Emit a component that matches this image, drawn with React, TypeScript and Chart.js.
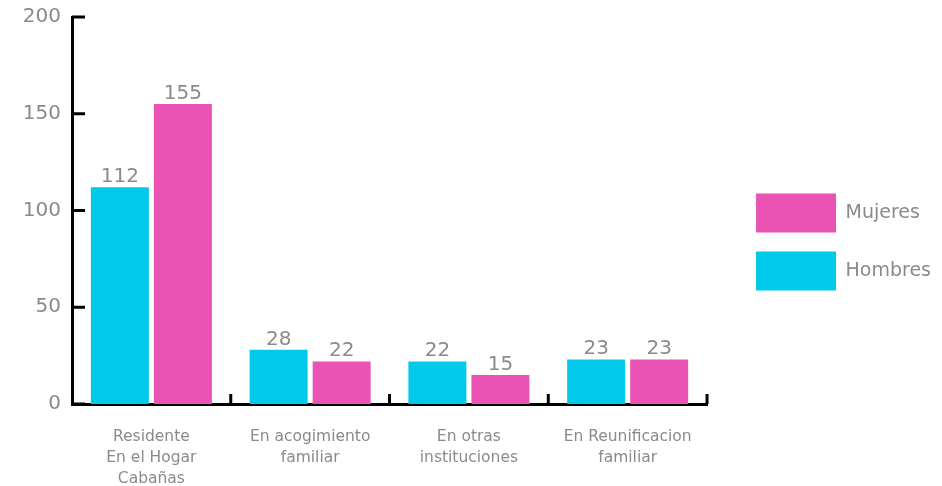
import React, { useEffect, useRef } from "react";
import { Chart, registerables } from "chart.js";

Chart.register(...registerables);

const categories: string[][] = [
  ["Residente", "En el Hogar", "Cabañas"],
  ["En acogimiento", "familiar"],
  ["En otras", "instituciones"],
  ["En Reunificacion", "familiar"],
];
const hombres: number[] = [112, 28, 22, 23];
const mujeres: number[] = [155, 22, 15, 23];
const seriesNames: string[] = ["Hombres", "Mujeres"];
const yTicks: number[] = [0, 50, 100, 150, 200];

const CYAN = "#00C9EA";
const PINK = "#EA53B3";
const GRAY = "#8a8a8a";
const FONT = "'DejaVu Sans', sans-serif";

const tickMarks = {
  id: "tickMarks",
  afterDraw(chart: any) {
    const { ctx, chartArea } = chart;
    const y = chart.scales.y;
    const x = chart.scales.x;
    ctx.save();
    ctx.strokeStyle = "#000";
    ctx.lineWidth = 3;
    ctx.beginPath();
    y.ticks.forEach((_t: any, i: number) => {
      const py = y.getPixelForTick(i);
      ctx.moveTo(chartArea.left, py);
      ctx.lineTo(chartArea.left + 13, py);
    });
    for (let i = 0; i < categories.length; i++) {
      const px = x.getPixelForValue(i + 0.5);
      ctx.moveTo(px, chartArea.bottom);
      ctx.lineTo(px, chartArea.bottom - 10);
    }
    ctx.stroke();
    ctx.restore();
  },
};

const valueLabels = {
  id: "valueLabels",
  afterDatasetsDraw(chart: any) {
    const { ctx } = chart;
    ctx.save();
    ctx.fillStyle = GRAY;
    ctx.font = `20px ${FONT}`;
    ctx.textAlign = "center";
    ctx.textBaseline = "alphabetic";
    chart.data.datasets.forEach((ds: any, di: number) => {
      const meta = chart.getDatasetMeta(di);
      meta.data.forEach((bar: any, i: number) => {
        ctx.fillText(String(ds.data[i]), bar.x, bar.y - 5);
      });
    });
    ctx.restore();
  },
};

export default function App() {
  const ref = useRef<HTMLCanvasElement | null>(null);
  useEffect(() => {
    if (!ref.current) return;
    const chart = new Chart(ref.current, {
      type: "bar",
      data: {
        labels: categories,
        datasets: [
          { label: seriesNames[0], data: hombres, backgroundColor: CYAN, borderWidth: 0 },
          { label: seriesNames[1], data: mujeres, backgroundColor: PINK, borderWidth: 0 },
        ],
      },
      options: {
        animation: false,
        responsive: true,
        maintainAspectRatio: false,
        layout: { padding: { top: 0, left: 0, right: 1, bottom: 2 } },
        datasets: { bar: { categoryPercentage: 0.794, barPercentage: 0.92 } },
        scales: {
          x: {
            offset: true,
            grid: { display: false, drawTicks: false, offset: true },
            border: { display: true, color: "#000", width: 3 },
            ticks: {
              color: GRAY,
              font: { family: FONT, size: 15.5, lineHeight: 1.36 },
              padding: 22,
              maxRotation: 0,
              autoSkip: false,
            },
            afterFit: (s: any) => {
              s.height = 80;
            },
          },
          y: {
            min: 0,
            max: 200,
            afterBuildTicks: (s: any) => {
              s.ticks = yTicks.map((v) => ({ value: v }));
            },
            grid: { display: false, drawTicks: false },
            border: { display: true, color: "#000", width: 3 },
            ticks: {
              color: GRAY,
              font: { family: FONT, size: 20 },
              padding: 11,
            },
            afterFit: (s: any) => {
              s.width = 72;
              s.paddingTop = 17;
            },
          },
          y2: {
            position: "right",
            display: false,
            afterFit: (s: any) => {
              s.width = 30;
            },
          },
        },
        plugins: {
          legend: {
            position: "right",
            reverse: true,
            labels: {
              boxWidth: 80,
              boxHeight: 39,
              padding: 19,
              color: GRAY,
              font: { family: FONT, size: 19 },
            },
          },
          tooltip: { enabled: false },
        },
      },
      plugins: [tickMarks, valueLabels],
    });
    return () => chart.destroy();
  }, []);
  return (
    <div style={{ position: "absolute", left: 0, top: 0, width: 942, height: 486 }}>
      <canvas ref={ref} />
    </div>
  );
}
